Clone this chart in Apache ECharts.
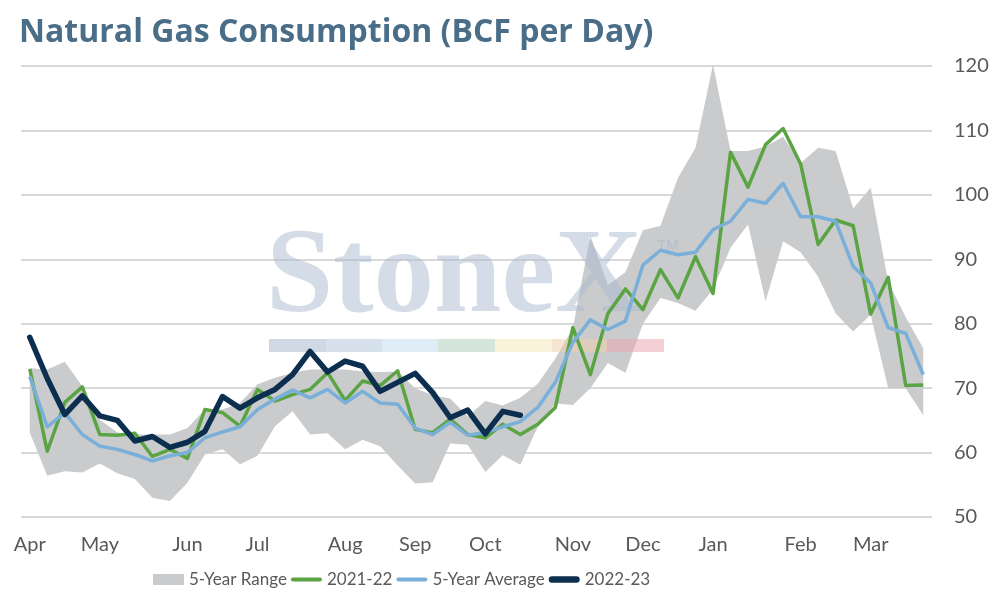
<!DOCTYPE html>
<html lang="en">
<head>
<meta charset="UTF-8">
<title>Natural Gas Consumption (BCF per Day)</title>
<script src="https://cdn.jsdelivr.net/npm/echarts@6/dist/echarts.min.js"></script>
<style>html,body{margin:0;padding:0;background:#fff;}</style>
</head>
<body>
<div id="main" style="width:994px;height:600px;"></div>
<script>
// weekly data, Apr -> Mar (52 weeks)
var monthNames = ['Apr', 'May', 'Jun', 'Jul', 'Aug', 'Sep', 'Oct', 'Nov', 'Dec', 'Jan', 'Feb', 'Mar'];
var monthWeek = [0, 4, 9, 13, 18, 22, 26, 31, 35, 39, 44, 48];

var rangeMin = [63.1, 56.4, 57.1, 56.9, 58.3, 56.8, 55.9, 53.0, 52.5, 55.3,
                59.7, 60.5, 58.2, 59.5, 64.1, 66.4, 62.8, 63.0, 60.5, 62.0,
                61.0, 58.0, 55.2, 55.4, 61.4, 61.2, 57.0, 59.6, 58.1, 64.0,
                67.6, 67.4, 70.0, 73.9, 72.4, 80.0, 84.0, 83.2, 82.0, 85.3,
                91.8, 95.4, 83.5, 92.8, 91.1, 87.3, 81.6, 78.8, 81.4, 70.0,
                70.0, 65.8];
var rangeMax = [73.1, 72.9, 74.1, 70.3, 65.1, 63.1, 62.8, 62.8, 62.8, 63.8,
                66.7, 66.7, 67.7, 70.6, 71.6, 72.4, 72.9, 72.9, 72.9, 72.6,
                72.5, 72.6, 70.0, 68.9, 68.4, 65.6, 68.0, 67.3, 68.5, 70.7,
                74.6, 79.3, 93.6, 86.0, 88.0, 94.5, 95.2, 102.6, 107.3, 120.2,
                106.8, 106.8, 107.5, 109.0, 104.9, 107.3, 106.8, 97.9, 101.1, 86.5,
                81.0, 76.2];
var y2122 = [73.0, 60.2, 67.8, 70.2, 62.8, 62.7, 63.0, 59.4, 60.5, 59.1,
             66.7, 66.2, 64.1, 69.8, 68.0, 69.0, 69.8, 72.4, 68.1, 71.1,
             70.4, 72.7, 63.6, 63.1, 65.2, 62.8, 62.3, 64.4, 62.8, 64.4,
             67.0, 79.4, 72.1, 81.6, 85.4, 82.2, 88.4, 84.0, 90.4, 84.7,
             106.6, 101.2, 107.8, 110.3, 104.8, 92.3, 96.1, 95.2, 81.5, 87.2,
             70.4, 70.5];
var avg5 = [71.8, 64.0, 66.2, 62.8, 61.0, 60.5, 59.7, 58.7, 59.5, 60.0,
            62.3, 63.2, 64.0, 66.7, 68.3, 69.7, 68.5, 69.8, 67.7, 69.5,
            67.7, 67.5, 63.8, 62.8, 64.7, 62.7, 63.1, 64.0, 64.8, 67.0,
            70.9, 77.1, 80.6, 79.1, 80.4, 89.1, 91.4, 90.7, 91.1, 94.6,
            95.9, 99.3, 98.7, 101.8, 96.6, 96.6, 95.9, 88.9, 86.3, 79.4,
            78.5, 72.1];
var y2223 = [77.9, 71.5, 65.9, 68.8, 65.7, 65.0, 61.8, 62.5, 60.8, 61.6,
             63.3, 68.7, 66.9, 68.5, 69.8, 72.1, 75.7, 72.5, 74.2, 73.4,
             69.5, 70.9, 72.3, 69.3, 65.4, 66.6, 62.9, 66.4, 65.8];

var weeks = [];
for (var i = 0; i < rangeMin.length; i++) weeks.push('');
monthWeek.forEach(function (w, k) { weeks[w] = monthNames[k]; });

var rangeSpan = rangeMax.map(function (v, i) { return +(v - rangeMin[i]).toFixed(1); });

var textColor = '#595959';
var fontName = 'Lato';
var markColor = 'rgba(170,186,208,0.5)';

function barIcon(w, h) {
    var r = h / 2;
    return 'path://M' + r + ',0 L' + (w - r) + ',0 A' + r + ',' + r + ' 0 0 1 ' + (w - r) + ',' + h +
        ' L' + r + ',' + h + ' A' + r + ',' + r + ' 0 0 1 ' + r + ',0 Z';
}

var myChart = echarts.init(document.getElementById('main'));
var option = {
    backgroundColor: '#fff',
    animation: false,
    title: {
        text: 'Natural Gas Consumption (BCF per Day)',
        left: 14,
        top: 12,
        textStyle: { color: '#4a6e88', fontSize: 32, fontWeight: 'bold', fontFamily: 'Open Sans' }
    },
    legend: {
        left: 148,
        top: 566,
        itemWidth: 31,
        itemHeight: 11,
        itemGap: 4,
        textStyle: { color: textColor, fontSize: 17, fontFamily: fontName },
        itemStyle: { borderWidth: 0 },
        data: [
            { name: '5-Year Range', icon: 'rect' },
            { name: '2021-22', icon: barIcon(33, 4) },
            { name: '5-Year Average', icon: barIcon(33, 4) },
            { name: '2022-23', icon: barIcon(33, 7) }
        ]
    },
    grid: { left: 21, right: 62, top: 66, bottom: 83 },
    xAxis: {
        type: 'category',
        data: weeks,
        boundaryGap: true,
        axisLine: { show: false },
        axisTick: { show: false },
        axisLabel: { interval: 0, color: textColor, fontSize: 20, fontFamily: fontName, margin: 18 }
    },
    yAxis: {
        type: 'value',
        position: 'right',
        min: 50,
        max: 120,
        interval: 10,
        axisLine: { show: false },
        axisTick: { show: false },
        axisLabel: { color: textColor, fontSize: 20, fontFamily: fontName, margin: 22 },
        splitLine: { lineStyle: { color: '#d9d9d9', width: 2 } }
    },
    graphic: [
        {
            type: 'text', left: 266, top: 219, z: 2, silent: true,
            style: { text: 'StoneX', font: 'bold 121px "Liberation Serif"', fill: markColor }
        },
        {
            type: 'text', left: 657, top: 238, z: 2, silent: true,
            style: { text: 'TM', font: '15px "Liberation Sans"', fill: 'rgba(170,186,208,0.7)' }
        },
        { type: 'rect', left: 269, top: 339, z: 2, silent: true, shape: { width: 57, height: 13 }, style: { fill: 'rgba(170,184,204,0.55)' } },
        { type: 'rect', left: 326, top: 339, z: 2, silent: true, shape: { width: 56, height: 13 }, style: { fill: 'rgba(182,200,220,0.55)' } },
        { type: 'rect', left: 382, top: 339, z: 2, silent: true, shape: { width: 56, height: 13 }, style: { fill: 'rgba(196,220,236,0.55)' } },
        { type: 'rect', left: 438, top: 339, z: 2, silent: true, shape: { width: 57, height: 13 }, style: { fill: 'rgba(180,208,190,0.55)' } },
        { type: 'rect', left: 495, top: 339, z: 2, silent: true, shape: { width: 57, height: 13 }, style: { fill: 'rgba(244,234,185,0.55)' } },
        { type: 'rect', left: 552, top: 339, z: 2, silent: true, shape: { width: 55, height: 13 }, style: { fill: 'rgba(238,208,175,0.55)' } },
        { type: 'rect', left: 607, top: 339, z: 2, silent: true, shape: { width: 57, height: 13 }, style: { fill: 'rgba(232,170,175,0.55)' } }
    ],
    series: [
        {
            name: 'rangeBase',
            type: 'line',
            stack: 'range',
            data: rangeMin,
            symbol: 'none',
            z: 1,
            lineStyle: { opacity: 0 },
            silent: true
        },
        {
            name: '5-Year Range',
            type: 'line',
            stack: 'range',
            data: rangeSpan,
            symbol: 'none',
            z: 1,
            color: '#c9cbcc',
            lineStyle: { opacity: 0 },
            areaStyle: { color: '#c9cbcc', opacity: 1 },
            silent: true
        },
        {
            name: '2021-22',
            type: 'line',
            data: y2122,
            symbol: 'none',
            z: 3,
            color: '#5ba443',
            lineStyle: { width: 3.5, color: '#5ba443', join: 'round' }
        },
        {
            name: '5-Year Average',
            type: 'line',
            data: avg5,
            symbol: 'none',
            z: 3,
            color: '#7aafd9',
            lineStyle: { width: 3.5, color: '#7aafd9', join: 'round' }
        },
        {
            name: '2022-23',
            type: 'line',
            data: y2223,
            symbol: 'none',
            z: 4,
            color: '#0c2f50',
            lineStyle: { width: 5.5, color: '#0c2f50', join: 'round', cap: 'round' }
        }
    ]
};
myChart.setOption(option);
</script>
</body>
</html>
